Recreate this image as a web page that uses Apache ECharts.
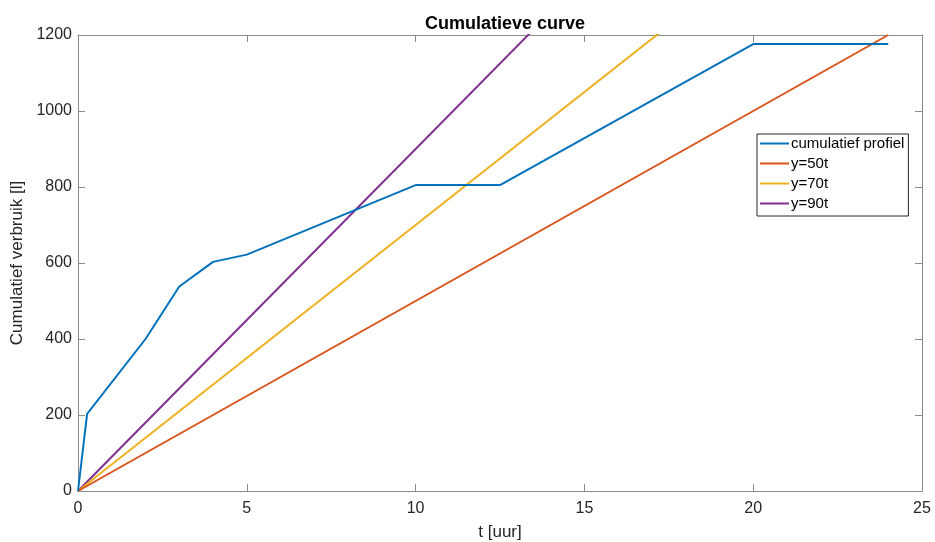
<!DOCTYPE html>
<html><head><meta charset="utf-8">
<script src="https://cdn.jsdelivr.net/npm/echarts@6/dist/echarts.min.js"></script>
<style>html,body{margin:0;padding:0;background:#fff}#c{width:935px;height:542px}</style>
</head><body><div id="c"></div>
<script>
const profielT = [0, 0.27, 2, 3, 4, 5, 10, 12.5, 20, 24];
const profielV = [0, 203, 400, 538, 603, 622, 805, 805, 1176, 1176];
const lineT = [0, 24];
const y50 = [0, 1200];
const y70 = [0, 1680];
const y90 = [0, 2160];
const seriesNames = ['cumulatief profiel', 'y=50t', 'y=70t', 'y=90t'];
const colors = ['#0072BD', '#D95319', '#EDB120', '#7E2F8E'];
const xTicks = [0, 5, 10, 15, 20, 25];
const yTicks = [0, 200, 400, 600, 800, 1000, 1200];

const zip = (a, b) => a.map((v, i) => [v, b[i]]);
const font = 'Liberation Sans, Arial, sans-serif';
const axisCol = '#8a8a8a';
const chart = echarts.init(document.getElementById('c'));
const mkX = (pos, show) => ({
  type: 'value', position: pos, min: xTicks[0], max: xTicks[xTicks.length - 1], interval: xTicks[1] - xTicks[0],
  axisLine: {show: true, onZero: false, lineStyle: {color: axisCol, width: 1}},
  axisTick: {show: true, inside: true, length: 7, lineStyle: {color: axisCol}},
  axisLabel: {show: show, color: '#262626', fontSize: 16, fontFamily: font, margin: 10, formatter: v => String(v)},
  splitLine: {show: false},
  name: show ? 't [uur]' : '', nameLocation: 'middle', nameGap: 33,
  nameTextStyle: {color: '#262626', fontSize: 17, fontFamily: font}
});
const mkY = (pos, show) => ({
  type: 'value', position: pos, min: yTicks[0], max: yTicks[yTicks.length - 1], interval: yTicks[1] - yTicks[0],
  axisLine: {show: true, onZero: false, lineStyle: {color: axisCol, width: 1}},
  axisTick: {show: true, inside: true, length: 7, lineStyle: {color: axisCol}},
  axisLabel: {show: show, color: '#262626', fontSize: 16, fontFamily: font, margin: 6, formatter: v => String(v)},
  splitLine: {show: false},
  name: show ? 'Cumulatief verbruik [l]' : '', nameLocation: 'middle', nameGap: 48,
  nameTextStyle: {color: '#262626', fontSize: 17, fontFamily: font}
});
const data = [zip(profielT, profielV), zip(lineT, y50), zip(lineT, y70), zip(lineT, y90)];
chart.setOption({
  animation: false,
  title: {text: 'Cumulatieve curve', left: 500, top: 10, textAlign: 'center',
    textStyle: {fontSize: 18, fontWeight: 'bold', color: '#000', fontFamily: font}},
  grid: {left: 78, right: 13, top: 35, bottom: 51, containLabel: false, outerBoundsMode: 'none'},
  xAxis: [mkX('bottom', true), mkX('top', false)],
  yAxis: [mkY('left', true), mkY('right', false)],
  legend: {
    orient: 'vertical', left: 757, top: 134, data: seriesNames, icon: 'rect',
    backgroundColor: '#fff', borderColor: '#262626', borderWidth: 1,
    padding: [2, 4, 5, 3], itemWidth: 29, itemHeight: 2, itemGap: 5,
    textStyle: {fontSize: 15, lineHeight: 15, color: '#000', fontFamily: font, padding: [0, 0, 0, -3]}
  },
  series: seriesNames.map((n, i) => ({
    name: n, type: 'line', data: data[i], symbol: 'none', clip: true,
    lineStyle: {color: colors[i], width: 2}, itemStyle: {color: colors[i]},
    z: 4 - i
  }))
});
</script></body></html>
